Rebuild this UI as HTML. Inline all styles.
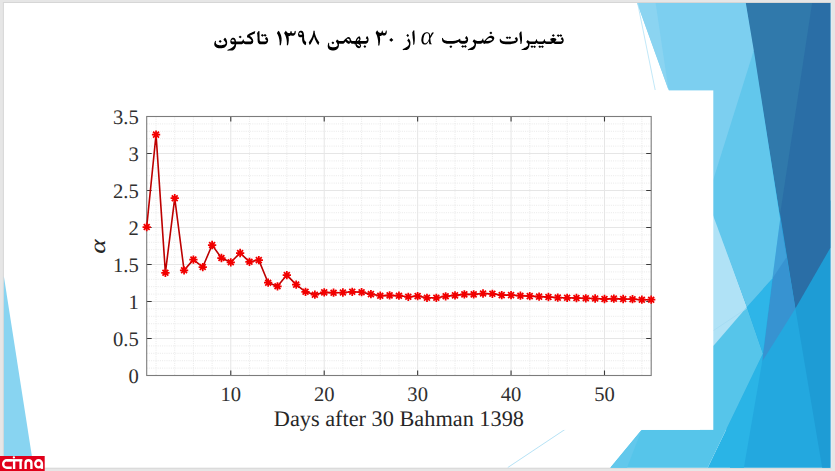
<!DOCTYPE html>
<html><head><meta charset="utf-8"><style>
html,body{margin:0;padding:0;width:835px;height:471px;overflow:hidden;background:#e6e6e6;font-family:"Liberation Sans",sans-serif}
svg{display:block;text-rendering:geometricPrecision}
</style></head><body>
<svg width="835" height="471" viewBox="0 0 835 471">
<rect x="0" y="0" width="835" height="471" fill="#e6e6e6"/>
<rect x="2.9" y="2.0" width="828.4" height="466.7" fill="#d6d6d6"/>
<rect x="830.6" y="2.8" width="1.4" height="465" fill="#e4ebf0"/>
<rect x="3.9" y="3.0" width="826.5" height="464.7" fill="#fff"/>

<polygon points="740,3.0 830.4,3.0 830.4,467.7 730,467.7 713.5,300 713.5,100" fill="#23a8df"/>
<polygon points="795.4,308.6 830.4,200 830.4,467.7 822.2,467.7" fill="#1e9cd5"/>
<polygon points="745.8,3.0 830.4,3.0 830.4,247.7 795.4,308.6" fill="#2a6ea6"/>
<polygon points="745.8,3.0 812.1,3.0 780,215" fill="#3079ab"/>
<polygon points="780.2,219 795.4,308.6 762.2,361.5" fill="#3793d1"/>
<polygon points="780.2,219 786.5,257.3 772.4,278.5" fill="#40a0d9"/>
<polygon points="762.9,353.4 762.2,361.5 743.9,467.7 707.7,467.7" fill="#2ab4e6"/>
<polygon points="700,350 746.9,307 762.9,353.4 707.7,467.7 610.3,467.7 641.7,429.8 700,429.8" fill="#56c5ea"/>
<polygon points="641.7,429.8 610.3,467.7 627,467.7" fill="#62c8ec"/>
<polygon points="746.9,307 772.4,278.5 762.9,353.4" fill="#2eb5e8"/>
<polygon points="680,120 746.9,307 713.5,345.8 690,340" fill="#b0e2f6"/>
<polygon points="753.8,50.4 780.2,219 772.4,278.5 746.9,307 700,180 700,170" fill="#62c7ec"/>
<polygon points="637.2,3.0 745.8,3.0 753.8,50.4 710,190 710,204.5" fill="#7ccff0"/>
<polygon points="637.2,3.0 655.6,3.0 668.5,90" fill="#8bd4f1"/>
<line x1="637.6" y1="3" x2="655.2" y2="90" stroke="#ade0f5" stroke-width="0.75"/>
<polygon points="3.9,276.6 33.7,467.7 3.9,467.7" fill="#88d4f1"/>
<line x1="746.7" y1="308.4" x2="507.8" y2="467.5" stroke="#a3dbf3" stroke-width="0.8"/>
<rect x="40" y="90.4" width="673.3" height="339.5" fill="#fff"/>

<path fill="#000" fill-rule="evenodd" d="M220.03 40.08 218.59 41.42 218.59 41.52 218.83 41.62 220.15 42.75 220.27 42.75 221.60 41.62 221.60 41.31 220.87 40.59ZM225.08 37.72 224.96 37.72 224.24 38.44 223.40 39.67 224.96 41.52 225.44 42.34 225.44 42.54 225.69 42.95 225.69 43.26 225.44 43.78 224.72 44.39 223.76 44.80 223.52 44.80 222.68 45.11 222.08 45.11 221.96 45.21 220.51 45.21 220.39 45.31 219.91 45.31 219.79 45.21 218.95 45.21 218.83 45.11 217.99 45.01 217.03 44.60 216.30 43.98 215.94 43.36 215.94 43.06 215.82 42.95 215.82 41.72 215.94 41.62 215.94 41.01 215.70 41.01 215.22 40.80 215.10 40.90 214.62 42.24 214.50 42.34 214.50 42.75 214.38 42.85 214.38 43.26 214.26 43.36 214.26 44.80 214.38 44.90 214.50 45.62 214.86 46.24 216.06 47.37 216.79 47.78 217.03 47.78 217.39 47.98 218.11 48.08 218.23 48.19 218.71 48.19 218.83 48.29 221.60 48.29 221.72 48.19 222.92 48.08 224.12 47.67 224.84 47.26 225.93 46.34 226.65 45.21 226.65 45.01 226.89 44.70 226.89 44.39 227.01 44.29 227.01 43.78 227.13 43.67 227.13 41.83 227.01 41.72 227.01 41.11 226.89 41.01 226.77 40.29 226.65 40.18 226.53 39.67 226.29 39.36 226.29 39.16 225.69 38.24ZM240.00 35.67 238.55 36.90 238.55 37.00 238.67 37.00 240.12 38.24 240.24 38.24 241.68 37.00 240.96 36.18 240.84 36.18 240.36 35.77ZM260.80 35.26 260.80 35.36 261.16 35.57 262.37 36.70 262.97 36.18 263.09 36.18 263.69 35.57 263.81 35.57 265.13 36.70 266.58 35.47 266.34 34.95 265.73 34.44 265.01 34.03 264.89 34.03 263.81 35.05 263.69 35.05 262.61 34.13 262.25 34.03ZM258.64 30.95 257.08 32.90 257.20 34.34 257.32 34.44 257.32 35.47 257.44 35.57 257.44 37.00 257.56 37.11 257.56 40.39 257.68 40.49 257.68 41.62 257.80 41.72 257.92 42.44 258.52 43.36 259.12 43.88 259.96 44.19 260.44 44.19 260.56 44.29 264.77 44.29 264.89 44.19 265.73 44.08 266.34 43.78 267.18 43.06 267.90 41.83 267.90 41.52 268.14 41.01 268.14 39.77 268.02 39.67 268.02 39.26 267.90 39.16 267.90 38.85 267.66 38.54 267.66 38.34 266.94 37.31 266.46 36.90 265.73 37.62 265.01 38.75 265.01 38.95 266.70 40.49 266.34 40.90 265.49 41.42 265.25 41.42 265.13 41.52 264.53 41.52 264.41 41.62 263.45 41.62 263.33 41.52 261.53 41.62 261.40 41.52 260.80 41.52 260.32 41.31 259.84 40.80 259.84 40.59 259.72 40.49 259.72 39.67 259.60 39.57 259.48 31.46 259.36 31.36 259.36 30.95ZM255.27 30.95 251.66 32.49 251.42 32.70 249.98 33.31 247.69 34.64 247.33 35.05 247.33 35.47 247.21 35.57 246.97 37.00 248.06 38.03 248.42 37.62 248.78 37.82 250.82 39.57 251.54 40.59 251.54 40.80 250.94 41.31 250.46 41.52 249.86 41.52 249.74 41.62 247.81 41.62 247.69 41.52 246.01 41.62 245.89 41.52 245.05 41.52 244.57 41.31 243.97 40.80 243.85 40.29 243.73 40.18 243.73 39.36 243.85 39.26 242.76 39.67 242.76 39.98 242.28 40.90 241.80 41.31 241.32 41.52 240.60 41.52 240.48 41.62 239.40 41.62 239.28 41.52 238.79 41.52 238.67 41.62 236.15 41.62 235.91 41.11 235.91 40.59 235.79 40.49 235.67 39.77 234.95 38.54 234.34 38.03 233.50 37.72 232.66 37.72 232.06 37.93 231.22 38.65 230.50 40.08 230.50 40.39 230.38 40.49 230.38 41.31 230.26 41.42 230.26 41.72 230.38 41.83 230.38 42.54 230.74 43.26 231.10 43.67 231.58 43.98 232.18 44.19 232.54 44.19 232.66 44.29 234.47 44.29 234.59 44.39 234.59 44.70 234.47 44.80 234.34 45.31 233.62 46.34 232.18 47.57 230.62 48.49 227.25 50.03 227.73 50.65 229.17 50.55 229.29 50.44 230.14 50.44 230.26 50.55 232.06 50.55 232.18 50.44 232.54 50.44 232.90 50.24 233.14 50.24 233.50 50.03 234.59 49.11 235.19 48.19 235.19 47.98 235.43 47.67 235.43 47.47 235.79 46.75 235.79 46.44 235.91 46.34 236.03 45.11 236.15 45.01 236.15 44.39 236.27 44.29 241.32 44.29 241.44 44.19 241.92 44.19 242.76 43.78 243.24 43.36 243.49 42.95 243.73 43.36 244.21 43.78 244.81 44.08 245.65 44.19 245.77 44.29 250.46 44.29 250.58 44.19 250.94 44.19 252.38 43.47 252.99 42.65 253.11 42.03 253.23 41.93 253.23 40.29 253.11 40.18 252.99 39.47 252.26 38.13 251.78 37.52 251.30 37.11 251.30 37.00 249.74 35.77 249.98 35.57 251.06 35.16 251.30 34.95 252.51 34.44 252.75 34.44 253.59 34.03 253.83 34.03 254.55 33.72 254.79 33.52 254.79 33.11 254.91 33.00 254.91 32.59 255.03 32.49 255.03 31.98 255.15 31.87 255.15 31.26 255.27 31.16ZM231.46 40.18 232.06 39.67 232.30 39.67 232.42 39.57 233.14 39.57 233.62 39.77 234.22 40.39 234.22 40.59 234.47 40.90 234.47 41.52 234.34 41.62 233.14 41.62 233.02 41.52 232.18 41.52 231.70 41.31 231.34 40.80ZM313.43 30.78 313.43 31.74 313.30 31.85 313.30 32.69 313.17 32.81 313.04 34.01 312.92 34.13 312.92 34.48 312.79 34.60 312.15 36.64 310.86 39.26 310.60 39.50 310.22 40.34 309.45 41.30 309.32 41.65 308.81 42.25 308.94 43.21 309.71 45.00 309.83 45.12 310.60 43.93 310.86 43.69 311.50 42.37 311.76 42.13 311.76 41.89 312.40 40.82 312.40 40.58 313.17 39.15 313.17 38.91 313.69 37.71 313.69 37.35 314.07 36.64 314.20 36.75 314.33 37.59 314.46 37.71 314.97 39.38 315.48 40.34 315.48 40.58 316.90 43.21 317.15 43.45 317.28 43.81 317.54 44.05 318.18 45.12 318.31 45.12 318.44 44.64 318.82 44.05 318.95 43.33 319.34 42.37 318.57 41.42 318.44 41.06 317.92 40.46 317.54 39.62 317.28 39.38 315.87 36.52 315.87 36.28 315.36 35.08 315.36 34.72 315.10 34.25 314.97 33.29 314.84 33.17 314.84 32.57 314.71 32.45 314.71 30.90 314.59 30.78ZM300.33 30.66 299.56 31.02 298.79 31.97 298.15 33.41 298.15 33.89 298.02 34.01 298.02 34.96 298.15 35.08 298.15 35.56 298.28 35.68 298.41 36.28 298.79 36.75 299.82 37.23 301.62 37.23 302.00 36.99 302.13 37.11 302.13 40.22 302.26 40.34 302.26 41.06 302.39 41.18 302.64 42.37 303.54 43.81 304.31 44.52 305.08 45.00 305.34 45.00 305.73 45.24 305.73 44.88 305.98 44.28 305.98 43.69 306.11 43.57 306.11 42.01 304.96 41.06 304.57 40.46 304.57 40.22 304.31 39.74 304.18 38.31 304.06 38.19 304.06 35.20 303.93 35.08 303.93 34.13 303.80 34.01 303.80 33.53 303.67 33.41 303.67 33.05 303.54 32.93 303.41 32.33 302.90 31.50 302.26 30.90 301.75 30.66ZM299.18 33.41 299.95 32.57 300.97 32.57 302.00 33.41 302.00 33.65 302.26 34.13 301.62 34.72 301.36 34.72 301.23 34.84 300.33 34.84 300.20 34.72 299.82 34.72 299.43 34.36 299.18 33.89ZM295.58 30.78 294.55 31.26 294.55 32.09 294.43 32.21 294.43 32.45 294.30 32.69 293.53 33.29 292.76 33.29 292.63 33.17 292.37 33.17 291.73 32.57 291.60 32.33 291.60 31.85 291.47 31.74 291.47 30.90 291.22 30.90 290.45 31.26 290.45 32.33 289.80 33.05 288.91 33.17 288.78 33.05 288.01 32.93 287.62 32.69 286.59 31.74 285.95 30.66 285.82 30.66 284.28 32.81 284.15 33.17 285.44 35.56 285.44 35.80 285.95 36.99 285.95 37.35 286.08 37.47 286.08 37.83 286.34 38.43 286.34 38.91 286.47 39.03 286.47 39.62 286.59 39.74 286.59 40.34 286.72 40.46 286.72 41.54 286.85 41.65 286.85 45.24 288.01 45.24 288.13 44.40 288.39 43.81 288.39 43.21 288.52 43.09 288.65 41.30 288.78 41.18 288.78 37.83 288.65 37.71 288.65 37.11 288.52 36.99 288.52 36.40 288.39 36.28 288.52 36.16 289.68 36.04 290.19 35.80 290.83 35.20 291.73 35.68 293.40 35.68 294.30 35.32 295.20 34.36 295.58 33.41 295.58 32.93 295.71 32.81 295.71 31.26 295.58 31.14ZM278.63 30.66 277.48 32.09 276.96 33.17 278.12 35.32 278.12 35.56 278.76 37.11 278.76 37.47 279.02 38.07 279.02 38.55 279.28 39.15 279.40 40.58 279.53 40.70 279.53 41.89 279.66 42.01 279.66 45.24 280.82 45.24 280.94 44.28 281.07 44.16 281.07 43.69 281.20 43.57 281.20 42.97 281.33 42.85 281.46 41.06 281.59 40.94 281.59 38.07 281.46 37.95 281.46 37.11 281.33 36.99 281.33 36.40 281.20 36.28 281.07 35.44 280.94 35.32 280.56 34.01 280.30 33.65 280.30 33.41 279.28 31.50ZM364.68 45.18 364.68 45.29 363.63 46.36 363.53 46.36 363.42 46.57 363.53 46.57 364.89 47.97 366.14 46.68 366.14 46.47 365.30 45.50ZM332.77 41.53 331.52 42.82 331.52 42.92 331.62 42.92 332.88 44.21 332.98 44.21 334.24 42.92 333.61 42.07 333.51 42.07 333.09 41.64ZM368.55 38.84 368.44 38.74 368.44 38.42 368.34 38.31 368.23 37.77 367.82 36.91 367.19 36.05 367.08 36.05 366.56 36.70 365.83 37.99 365.83 38.20 367.29 39.70 367.29 39.92 366.46 40.67 365.93 40.88 365.41 40.88 365.30 40.99 363.74 40.88 363.63 40.99 360.18 40.99 360.07 41.10 359.76 41.10 359.66 40.99 360.07 40.46 360.49 39.38 360.49 38.09 359.87 36.70 359.55 36.27 358.30 36.81 357.36 37.56 357.36 37.66 356.73 38.31 356.41 38.95 356.20 39.17 356.00 39.60 356.00 39.81 355.79 40.13 355.68 40.67 355.47 40.99 353.80 40.99 353.69 40.88 352.33 40.99 352.23 40.88 351.81 40.88 351.60 40.78 351.18 40.35 351.08 39.92 350.77 39.38 350.66 38.84 350.03 37.66 349.41 37.13 348.36 36.91 348.25 37.02 347.63 37.13 347.10 37.45 345.85 38.74 345.64 38.52 343.65 40.67 343.23 40.88 342.71 40.88 342.61 40.99 342.08 40.99 341.98 40.88 341.25 40.88 341.14 40.99 339.68 40.99 339.57 40.88 339.05 40.88 338.00 40.35 337.27 39.60 337.27 39.49 337.06 39.38 335.81 41.31 337.27 43.68 337.27 43.89 337.59 44.53 337.59 45.50 337.48 45.72 336.54 46.57 335.81 46.90 335.18 47.00 335.07 47.11 334.76 47.11 334.66 47.22 333.82 47.22 333.71 47.33 332.35 47.33 332.25 47.22 331.31 47.11 330.26 46.68 329.64 46.14 329.11 45.07 329.11 43.46 329.22 43.35 329.22 42.92 328.80 42.71 328.48 42.71 328.07 43.78 328.07 44.11 327.86 44.64 327.86 45.07 327.75 45.18 327.75 47.00 327.86 47.11 327.96 47.76 328.48 48.72 329.22 49.47 330.37 50.12 331.00 50.22 331.10 50.33 331.52 50.33 331.62 50.44 332.46 50.44 332.56 50.55 333.40 50.55 333.51 50.44 334.34 50.44 334.45 50.33 334.87 50.33 334.97 50.22 335.81 50.01 336.64 49.58 337.06 49.26 338.21 47.97 338.63 47.11 338.84 46.04 338.94 45.93 338.94 43.68 339.05 43.57 339.57 43.78 343.13 43.78 343.23 43.68 343.76 43.57 344.59 42.82 344.91 42.17 345.01 41.64 345.22 41.53 347.31 43.14 348.99 44.00 349.09 44.00 349.72 43.35 350.35 42.39 351.08 43.35 351.71 43.68 352.12 43.68 352.23 43.78 354.32 43.78 354.43 43.89 354.32 44.11 354.32 44.53 355.16 44.11 355.37 44.32 355.37 44.86 355.47 44.96 355.58 45.50 356.20 46.68 357.36 47.76 358.09 48.08 359.03 48.18 360.07 47.76 360.70 47.00 360.91 46.57 361.12 45.50 361.02 45.39 361.02 44.96 360.39 43.89 360.49 43.78 365.62 43.78 365.72 43.68 366.14 43.68 366.87 43.35 367.29 43.03 367.82 42.39 368.23 41.53 368.23 41.31 368.44 40.88 368.44 40.56 368.55 40.46ZM356.62 43.89 356.73 43.78 357.36 43.78 357.46 43.89 358.19 44.00 359.03 44.43 359.87 45.29 360.07 46.04 359.97 46.14 359.03 46.14 357.77 45.61 357.04 44.86 356.83 44.53 356.83 44.32ZM359.55 41.10 359.66 40.99 359.76 41.10 359.66 41.21ZM346.69 39.38 347.31 38.84 347.73 38.63 348.57 38.63 349.30 39.17 349.61 39.81 349.61 40.88 349.51 40.99 349.51 41.21 349.20 41.42 347.10 39.92 346.69 39.49ZM358.71 38.20 359.34 39.17 359.34 39.60 359.24 39.81 358.71 40.24 357.88 40.67 357.04 40.88 356.94 40.67 357.36 39.70 357.98 38.84ZM391.22 37.90 389.23 39.88 389.23 40.00 391.22 41.85 391.35 41.85 393.34 39.88 391.35 37.90ZM386.74 30.61 386.37 30.61 385.99 30.86 385.74 30.86 385.62 32.09 385.37 32.59 384.62 33.08 383.88 33.08 383.38 32.83 383.01 32.46 382.76 31.84 382.76 30.49 381.76 30.98 381.76 31.84 381.64 31.97 381.64 32.22 381.01 32.83 380.77 32.83 380.64 32.96 379.65 32.83 378.65 32.22 377.78 31.23 377.28 30.36 376.28 31.60 376.04 32.22 375.66 32.71 375.66 33.08 376.91 35.55 376.91 35.80 377.28 36.66 377.53 38.02 377.65 38.15 377.65 38.64 377.78 38.77 377.78 39.26 377.90 39.38 377.90 40.00 378.03 40.12 378.03 40.87 378.15 40.99 378.15 42.84 378.28 42.97 378.28 44.70 378.15 44.82 378.15 45.44 379.27 45.44 379.40 45.31 379.52 44.33 379.65 44.20 379.65 43.71 379.77 43.58 379.77 42.84 379.89 42.72 379.89 41.98 380.02 41.85 380.02 40.37 380.14 40.25 380.02 37.41 379.89 37.28 379.77 36.17 379.89 36.05 380.89 35.92 381.64 35.55 382.13 35.06 382.38 35.30 382.63 35.30 383.01 35.55 384.50 35.55 384.62 35.43 385.25 35.30 385.62 35.06 386.24 34.32 386.37 33.82 386.62 33.45 386.62 32.96 386.74 32.83ZM408.81 38.47 408.38 38.80 407.19 40.71 408.27 41.83 408.81 42.73 408.81 42.96 409.02 43.41 409.02 44.19 408.70 45.09 408.05 45.88 407.95 45.88 407.08 46.66 406.11 47.34 405.79 47.45 405.57 47.67 405.25 47.79 405.03 48.01 402.55 49.36 403.09 50.14 403.63 49.92 404.60 49.92 404.71 49.81 404.82 49.92 406.87 49.92 406.97 49.81 407.30 49.81 408.16 49.36 409.02 48.46 409.45 47.79 409.99 46.55 410.10 45.88 410.21 45.76 410.21 45.32 410.32 45.20 410.32 44.64 410.43 44.53 410.43 42.06 410.32 41.95 410.32 41.50 410.21 41.39 410.21 41.05 409.89 40.37 409.89 40.15ZM407.62 34.09 406.33 35.43 406.33 35.55 407.73 37.01 408.59 36.22 408.59 36.11 409.02 35.66 409.02 35.43 408.05 34.31ZM414.31 30.16 413.66 30.16 412.80 31.39 412.26 32.51 412.26 32.85 412.37 32.96 412.37 34.76 412.47 34.87 412.47 36.00 412.58 36.11 412.69 38.02 412.80 38.13 412.80 38.91 412.91 39.03 412.91 39.70 413.01 39.81 413.01 40.49 413.12 40.60 413.12 41.39 413.23 41.50 413.23 44.75 413.98 44.75 414.09 44.64 414.09 44.42 414.41 43.63 414.41 43.29 414.52 43.18 414.52 42.40 414.63 42.28 414.63 41.50 414.74 41.39 414.85 37.57 414.74 37.46 414.74 35.66 414.63 35.55 414.63 34.42 414.52 34.31 414.52 33.30 414.41 33.19 414.41 31.17 414.31 31.05ZM424.18 33.04 423.20 33.94 422.59 34.85 421.97 36.14 421.97 36.40 421.73 36.91 421.73 37.30 421.61 37.43 421.48 38.85 421.36 38.98 421.36 40.92 421.48 41.05 421.61 42.08 422.22 43.37 422.83 44.02 423.93 44.54 425.28 44.54 425.41 44.41 425.77 44.41 426.39 44.15 427.37 43.37 427.98 42.60 428.59 41.44 428.84 41.18 428.96 41.31 429.08 42.99 429.20 43.11 429.20 43.50 429.33 43.63 429.45 44.28 431.90 44.28 431.90 44.02 432.02 43.89 431.90 43.76 431.53 43.76 431.17 43.50 430.80 42.47 430.80 41.95 430.68 41.82 430.68 41.31 430.55 41.18 430.55 40.40 430.43 40.27 430.43 38.72 430.31 38.46 430.92 37.30 431.17 37.04 431.29 36.66 431.78 36.01 431.90 35.62 432.39 34.98 432.51 34.59 433.74 32.91 433.74 32.52 432.02 32.52 431.53 33.56 431.29 33.81 430.68 35.24 430.31 35.75 430.06 35.11 430.06 34.59 429.82 34.20 429.69 33.69 429.08 32.91 428.22 32.39 427.86 32.39 427.73 32.26 426.14 32.26 426.02 32.39 425.16 32.52ZM427.61 33.17 428.10 33.43 428.47 33.81 428.84 34.59 428.84 34.98 428.96 35.11 428.96 36.01 429.08 36.14 429.08 38.85 427.98 41.18 427.37 42.08 426.63 42.86 425.77 43.37 424.67 43.37 423.81 42.60 423.57 42.08 423.44 41.18 423.32 41.05 423.44 38.46 423.57 38.34 423.57 37.82 423.69 37.69 423.69 37.17 423.93 36.66 423.93 36.27 424.67 34.59 425.77 33.43 426.39 33.17ZM450.70 45.41 449.32 46.68 450.81 48.04 450.93 48.04 452.31 46.78 452.31 46.68 451.27 45.62 450.93 45.41ZM466.71 46.57 466.59 46.26 465.21 45.10 464.06 46.26 463.25 45.52 462.79 45.20 462.56 45.20 461.18 46.47 461.64 46.89 461.76 46.89 462.68 47.83 462.79 47.83 464.06 46.68 465.33 47.83 465.44 47.83 466.59 46.78ZM468.09 38.80 467.98 38.69 467.98 38.38 467.86 38.27 467.75 37.75 467.29 36.91 466.59 36.06 466.48 36.06 465.67 37.01 465.10 37.96 465.10 38.17 466.71 39.64 466.71 39.85 465.79 40.58 465.21 40.79 464.64 40.79 464.52 40.90 463.60 40.90 463.48 40.79 462.10 40.90 461.99 40.79 461.30 40.79 461.18 40.69 460.95 40.69 460.03 39.95 460.03 39.74 460.72 39.01 460.60 38.90 459.68 38.69 459.11 39.22 458.30 39.74 456.92 40.37 456.57 40.37 456.11 40.58 455.19 40.69 455.07 40.79 452.77 40.90 452.66 41.00 448.39 41.00 448.28 40.90 447.01 40.90 446.90 40.79 445.74 40.69 445.63 40.58 444.71 40.37 444.48 40.16 444.13 40.06 443.56 39.53 443.09 38.69 442.98 38.06 442.40 37.96 442.29 37.85 442.17 37.85 442.17 38.06 442.06 38.17 442.06 40.16 442.17 40.27 442.29 41.00 442.52 41.42 442.75 41.63 442.86 41.95 443.56 42.58 444.25 43.00 444.48 43.00 445.05 43.31 446.20 43.52 446.32 43.63 448.05 43.73 448.16 43.84 451.85 43.84 451.96 43.73 453.12 43.73 453.23 43.63 454.50 43.52 454.61 43.42 454.96 43.42 455.07 43.31 456.34 43.00 457.49 42.47 458.65 41.63 458.99 42.37 459.80 43.10 460.49 43.42 461.18 43.52 461.30 43.63 464.87 43.63 464.98 43.52 465.44 43.52 466.25 43.21 466.71 42.89 467.29 42.26 467.75 41.42 467.75 41.21 467.98 40.79 467.98 40.48 468.09 40.37ZM494.01 37.12 493.32 36.38 491.94 35.75 490.56 35.75 490.44 35.85 489.86 35.96 489.17 36.27 488.02 37.01 486.18 38.69 484.45 40.79 484.22 40.79 483.76 40.58 483.30 39.95 483.30 38.69 483.41 38.48 482.49 38.80 482.38 39.32 482.03 40.06 481.34 40.69 481.11 40.79 480.53 40.79 480.42 40.90 479.50 40.90 479.38 40.79 479.15 40.90 477.08 40.90 476.96 40.79 476.39 40.79 475.35 40.37 474.31 39.43 474.31 39.32 474.20 39.32 473.28 40.27 472.59 41.42 473.74 42.47 474.31 43.42 474.31 43.63 474.43 43.73 474.43 44.26 474.54 44.36 474.31 45.31 474.08 45.62 472.59 46.89 471.55 47.52 471.20 47.62 470.63 48.04 470.28 48.15 470.05 48.36 467.75 49.41 467.63 49.62 468.21 50.25 468.32 50.14 468.78 50.14 468.90 50.04 472.24 50.04 472.35 49.93 472.93 49.83 473.85 49.30 474.66 48.46 475.47 46.99 475.47 46.78 475.81 46.05 475.81 45.62 475.93 45.52 476.04 43.52 476.16 43.42 476.73 43.52 476.85 43.63 480.99 43.63 481.11 43.52 481.46 43.52 482.03 43.31 482.84 42.47 483.64 43.10 483.64 43.42 483.53 43.52 483.41 44.05 484.57 44.05 484.68 43.63 484.91 43.42 485.03 43.52 487.79 43.52 487.91 43.42 488.37 43.42 488.48 43.31 488.83 43.31 488.94 43.21 489.52 43.10 491.13 42.37 491.94 41.84 493.21 40.69 493.67 40.06 494.24 38.69 494.24 37.64 494.01 37.33ZM492.28 39.22 492.28 39.53 491.48 40.16 490.10 40.69 489.63 40.69 489.52 40.79 488.60 40.79 488.48 40.90 486.18 40.90 486.06 40.79 486.18 40.48 486.52 40.06 488.14 38.59 488.83 38.17 489.40 37.96 490.79 37.96 491.48 38.27 491.94 38.69ZM490.67 31.65 490.67 31.76 489.52 32.81 489.29 32.91 489.75 33.23 490.79 34.28 491.02 34.28 492.28 33.12 492.28 32.91 491.25 31.86 490.90 31.65ZM538.35 46.57 538.35 46.66 539.82 47.92 539.93 47.92 541.06 46.95 541.29 46.95 542.19 47.73 542.19 47.83 542.41 47.92 542.75 47.73 543.77 46.76 543.54 46.37 542.41 45.50 542.19 45.50 541.06 46.47 540.50 45.89 539.71 45.40 539.59 45.60 538.58 46.47ZM535.87 46.76 535.76 46.47 534.40 45.40 533.27 46.47 532.48 45.79 532.03 45.50 531.81 45.50 530.45 46.66 530.90 47.05 531.02 47.05 531.92 47.92 532.03 47.92 533.27 46.86 534.51 47.92 534.63 47.92 535.76 46.95ZM563.52 39.01 562.95 37.94 562.16 37.07 561.71 37.46 560.70 38.91 562.39 40.46 561.60 41.14 560.92 41.43 560.25 41.43 560.13 41.53 559.34 41.53 559.23 41.43 558.55 41.43 558.44 41.53 555.05 41.53 554.94 41.33 555.96 40.46 556.30 39.88 556.30 39.10 555.62 38.43 554.94 38.14 553.93 38.04 553.81 37.94 552.23 38.04 552.12 38.14 551.78 38.14 550.65 38.52 550.43 39.01 550.31 39.69 550.20 39.78 550.20 40.36 550.54 40.36 551.22 40.65 551.67 41.04 551.67 41.14 551.44 41.33 551.22 41.33 551.10 41.43 550.43 41.43 550.31 41.53 548.73 41.53 548.62 41.43 546.93 41.53 546.82 41.43 546.14 41.43 546.03 41.33 545.80 41.33 545.57 41.24 545.01 40.65 545.01 40.46 544.90 40.36 544.90 39.30 543.99 39.59 543.88 40.17 543.20 41.14 542.87 41.33 542.64 41.33 542.53 41.43 541.96 41.43 541.85 41.53 540.83 41.53 540.72 41.43 539.03 41.53 538.92 41.43 538.24 41.43 538.13 41.33 537.90 41.33 537.34 40.95 537.11 40.56 537.11 40.36 537.00 40.27 537.00 39.30 536.09 39.59 535.98 40.27 535.64 40.85 535.19 41.24 534.74 41.43 534.06 41.43 533.95 41.53 532.93 41.53 532.82 41.43 532.26 41.43 532.14 41.53 530.57 41.53 530.45 41.43 529.89 41.43 528.87 41.04 527.86 40.17 527.86 40.07 527.74 40.07 526.84 40.95 526.16 42.01 527.29 42.98 527.86 43.85 527.86 44.05 527.97 44.14 527.97 44.63 528.08 44.72 527.86 45.60 527.63 45.89 526.16 47.05 525.15 47.63 524.81 47.73 524.25 48.12 523.91 48.21 523.68 48.41 521.42 49.38 521.31 49.57 521.88 50.15 521.99 50.05 522.44 50.05 522.55 49.96 525.83 49.96 526.73 49.67 527.41 49.28 527.86 48.89 528.65 47.83 528.65 47.63 528.99 47.15 528.99 46.95 529.32 46.28 529.44 45.11 529.55 45.02 529.55 43.95 529.66 43.85 530.23 43.95 530.34 44.05 534.74 44.05 534.85 43.95 535.19 43.95 535.76 43.76 536.32 43.37 536.77 42.79 537.00 43.17 537.56 43.66 538.01 43.85 538.80 43.95 538.92 44.05 542.64 44.05 542.75 43.95 543.43 43.85 543.77 43.66 544.56 42.88 544.67 42.88 545.46 43.66 546.70 44.05 550.20 44.05 550.31 43.95 550.77 43.95 551.44 43.66 551.67 43.66 552.68 43.08 553.14 42.69 553.25 42.69 553.36 42.88 554.38 43.66 555.62 44.05 560.58 44.05 560.70 43.95 561.04 43.95 562.05 43.56 562.73 42.98 563.41 41.91 563.52 41.33 563.63 41.24 563.63 40.65 563.74 40.56 563.74 39.98 563.63 39.88ZM517.81 39.39 517.70 39.30 517.59 38.62 517.14 37.84 516.12 36.88 515.22 37.94 514.77 38.81 515.56 39.49 516.12 40.27 515.44 40.65 515.22 40.65 514.88 40.85 514.65 40.85 514.20 41.04 513.30 41.14 512.73 41.33 511.04 41.43 510.93 41.53 509.57 41.53 509.46 41.62 507.09 41.62 506.98 41.53 505.29 41.53 505.17 41.43 503.71 41.33 503.59 41.24 503.14 41.24 503.03 41.14 502.46 41.04 501.56 40.56 501.11 40.07 500.77 39.49 500.66 38.91 500.21 38.72 499.87 38.72 499.87 39.01 499.76 39.10 499.76 40.95 499.87 41.04 499.98 41.72 500.32 42.30 500.77 42.69 500.77 42.79 501.45 43.27 502.58 43.76 502.92 43.76 503.48 43.95 503.93 43.95 504.04 44.05 505.74 44.14 505.85 44.24 509.46 44.24 509.57 44.14 510.70 44.14 510.82 44.05 511.38 44.05 511.94 43.85 512.40 43.85 512.51 43.76 513.30 43.66 513.41 43.56 514.31 43.37 514.65 43.17 514.88 43.17 515.89 42.69 516.68 42.11 517.25 41.43 517.70 40.56ZM505.74 37.65 505.74 37.75 506.30 38.23 506.41 38.23 507.20 39.01 507.66 38.72 508.45 37.94 508.56 37.94 509.80 39.01 511.15 37.84 511.04 37.55 510.59 37.17 510.59 37.07 509.69 36.49 509.57 36.49 508.56 37.46 508.45 37.46 507.54 36.68 507.20 36.49 506.98 36.49 506.98 36.58ZM556.75 35.52 558.33 36.88 559.57 35.81 559.68 35.81 560.70 36.68 560.81 36.88 562.16 35.71 562.05 35.32 560.81 34.36 560.70 34.36 559.57 35.32 559.46 35.32 558.78 34.65 558.10 34.36ZM553.14 34.26 551.78 35.42 553.25 36.68 553.36 36.68 553.81 36.39 554.72 35.52 554.38 35.03 553.47 34.36ZM521.54 31.45 520.86 31.45 520.41 31.84 519.39 33.39 519.39 34.74 519.51 34.84 519.62 36.97 519.73 37.07 519.73 37.84 519.84 37.94 519.84 38.62 519.96 38.72 519.96 39.39 520.07 39.49 520.07 40.07 520.18 40.17 520.18 40.75 520.30 40.85 520.30 41.72 520.41 41.82 520.41 44.05 521.20 44.05 521.31 43.85 521.31 43.66 521.54 43.27 521.54 42.98 521.65 42.88 521.76 41.62 521.88 41.53 521.88 40.85 521.99 40.75 521.99 36.88 521.88 36.78 521.88 35.71 521.76 35.62 521.76 34.65 521.65 34.55Z"/>
<path d="M156.04 116.50V375.50M174.73 116.50V375.50M193.41 116.50V375.50M212.10 116.50V375.50M249.47 116.50V375.50M268.15 116.50V375.50M286.84 116.50V375.50M305.52 116.50V375.50M342.89 116.50V375.50M361.58 116.50V375.50M380.26 116.50V375.50M398.95 116.50V375.50M436.32 116.50V375.50M455.01 116.50V375.50M473.69 116.50V375.50M492.38 116.50V375.50M529.75 116.50V375.50M548.43 116.50V375.50M567.12 116.50V375.50M585.80 116.50V375.50M623.17 116.50V375.50M641.86 116.50V375.50M146.70 368.10H651.20M146.70 360.70H651.20M146.70 353.30H651.20M146.70 345.90H651.20M146.70 331.10H651.20M146.70 323.70H651.20M146.70 316.30H651.20M146.70 308.90H651.20M146.70 294.10H651.20M146.70 286.70H651.20M146.70 279.30H651.20M146.70 271.90H651.20M146.70 257.10H651.20M146.70 249.70H651.20M146.70 242.30H651.20M146.70 234.90H651.20M146.70 220.10H651.20M146.70 212.70H651.20M146.70 205.30H651.20M146.70 197.90H651.20M146.70 183.10H651.20M146.70 175.70H651.20M146.70 168.30H651.20M146.70 160.90H651.20M146.70 146.10H651.20M146.70 138.70H651.20M146.70 131.30H651.20M146.70 123.90H651.20" stroke="#e6e6e6" stroke-width="0.9" stroke-dasharray="1 1.2" fill="none"/>
<path d="M230.78 116.50V375.50M324.21 116.50V375.50M417.64 116.50V375.50M511.06 116.50V375.50M604.49 116.50V375.50M146.70 338.50H651.20M146.70 301.50H651.20M146.70 264.50H651.20M146.70 227.50H651.20M146.70 190.50H651.20M146.70 153.50H651.20" stroke="#e6e6e6" stroke-width="1" fill="none"/>
<path d="M230.78 375.50v-5.00M230.78 116.50v5.00M324.21 375.50v-5.00M324.21 116.50v5.00M417.64 375.50v-5.00M417.64 116.50v5.00M511.06 375.50v-5.00M511.06 116.50v5.00M604.49 375.50v-5.00M604.49 116.50v5.00M146.70 338.50h5.00M651.20 338.50h-5.00M146.70 301.50h5.00M651.20 301.50h-5.00M146.70 264.50h5.00M651.20 264.50h-5.00M146.70 227.50h5.00M651.20 227.50h-5.00M146.70 190.50h5.00M651.20 190.50h-5.00M146.70 153.50h5.00M651.20 153.50h-5.00" stroke="#3a3a3a" stroke-width="1.1" fill="none"/>
<rect x="146.70" y="116.50" width="504.50" height="259.00" fill="none" stroke="#7c7c7c" stroke-width="1.1"/>
<g font-family="Liberation Serif" font-size="20.6" fill="#303030"><text x="138.7" y="383.00" text-anchor="end">0</text><text x="138.7" y="346.00" text-anchor="end">0.5</text><text x="138.7" y="309.00" text-anchor="end">1</text><text x="138.7" y="272.00" text-anchor="end">1.5</text><text x="138.7" y="235.00" text-anchor="end">2</text><text x="138.7" y="198.00" text-anchor="end">2.5</text><text x="138.7" y="161.00" text-anchor="end">3</text><text x="138.7" y="124.00" text-anchor="end">3.5</text><text x="230.78" y="401.4" text-anchor="middle">10</text><text x="324.21" y="401.4" text-anchor="middle">20</text><text x="417.64" y="401.4" text-anchor="middle">30</text><text x="511.06" y="401.4" text-anchor="middle">40</text><text x="604.49" y="401.4" text-anchor="middle">50</text></g>
<text x="398.9" y="425.8" font-family="Liberation Serif" font-size="22.3" fill="#262626" text-anchor="middle">Days after 30 Bahman 1398</text>
<text transform="translate(105.4 246.4) rotate(-90) scale(1.25 1.0)" font-family="Liberation Serif" font-size="22" font-style="italic" fill="#262626" text-anchor="middle">α</text>
<polyline points="146.70,227.00 156.04,134.60 165.39,272.80 174.73,198.20 184.07,270.30 193.41,259.60 202.76,267.05 212.10,245.00 221.44,258.00 230.78,262.30 240.13,253.00 249.47,261.80 258.81,260.10 268.15,282.70 277.50,286.30 286.84,275.10 296.18,284.60 305.52,291.80 314.87,294.70 324.21,292.40 333.55,292.70 342.89,292.50 352.24,291.80 361.58,292.20 370.92,294.10 380.26,295.70 389.61,295.40 398.95,295.70 408.29,296.80 417.64,296.10 426.98,297.80 436.32,297.80 445.66,296.30 455.01,295.40 464.35,294.40 473.69,294.40 483.03,293.50 492.38,293.80 501.72,295.10 511.06,295.10 520.40,295.70 529.75,296.10 539.09,296.60 548.43,297.00 557.77,297.60 567.12,297.80 576.46,298.00 585.80,298.30 595.14,298.50 604.49,299.00 613.83,298.60 623.17,299.00 632.51,299.20 641.86,299.70 651.20,299.70" fill="none" stroke="#bd0000" stroke-width="1.6" stroke-linejoin="round"/>
<path d="M142.55 227.00h8.30M146.70 222.85v8.30M143.77 224.07l5.87 5.87M143.77 229.93l5.87 -5.87M151.89 134.60h8.30M156.04 130.45v8.30M153.11 131.67l5.87 5.87M153.11 137.53l5.87 -5.87M161.24 272.80h8.30M165.39 268.65v8.30M162.45 269.87l5.87 5.87M162.45 275.73l5.87 -5.87M170.58 198.20h8.30M174.73 194.05v8.30M171.79 195.27l5.87 5.87M171.79 201.13l5.87 -5.87M179.92 270.30h8.30M184.07 266.15v8.30M181.14 267.37l5.87 5.87M181.14 273.23l5.87 -5.87M189.26 259.60h8.30M193.41 255.45v8.30M190.48 256.67l5.87 5.87M190.48 262.53l5.87 -5.87M198.61 267.05h8.30M202.76 262.90v8.30M199.82 264.12l5.87 5.87M199.82 269.98l5.87 -5.87M207.95 245.00h8.30M212.10 240.85v8.30M209.16 242.07l5.87 5.87M209.16 247.93l5.87 -5.87M217.29 258.00h8.30M221.44 253.85v8.30M218.51 255.07l5.87 5.87M218.51 260.93l5.87 -5.87M226.63 262.30h8.30M230.78 258.15v8.30M227.85 259.37l5.87 5.87M227.85 265.23l5.87 -5.87M235.98 253.00h8.30M240.13 248.85v8.30M237.19 250.07l5.87 5.87M237.19 255.93l5.87 -5.87M245.32 261.80h8.30M249.47 257.65v8.30M246.53 258.87l5.87 5.87M246.53 264.73l5.87 -5.87M254.66 260.10h8.30M258.81 255.95v8.30M255.88 257.17l5.87 5.87M255.88 263.03l5.87 -5.87M264.00 282.70h8.30M268.15 278.55v8.30M265.22 279.77l5.87 5.87M265.22 285.63l5.87 -5.87M273.35 286.30h8.30M277.50 282.15v8.30M274.56 283.37l5.87 5.87M274.56 289.23l5.87 -5.87M282.69 275.10h8.30M286.84 270.95v8.30M283.90 272.17l5.87 5.87M283.90 278.03l5.87 -5.87M292.03 284.60h8.30M296.18 280.45v8.30M293.25 281.67l5.87 5.87M293.25 287.53l5.87 -5.87M301.37 291.80h8.30M305.52 287.65v8.30M302.59 288.87l5.87 5.87M302.59 294.73l5.87 -5.87M310.72 294.70h8.30M314.87 290.55v8.30M311.93 291.77l5.87 5.87M311.93 297.63l5.87 -5.87M320.06 292.40h8.30M324.21 288.25v8.30M321.27 289.47l5.87 5.87M321.27 295.33l5.87 -5.87M329.40 292.70h8.30M333.55 288.55v8.30M330.62 289.77l5.87 5.87M330.62 295.63l5.87 -5.87M338.74 292.50h8.30M342.89 288.35v8.30M339.96 289.57l5.87 5.87M339.96 295.43l5.87 -5.87M348.09 291.80h8.30M352.24 287.65v8.30M349.30 288.87l5.87 5.87M349.30 294.73l5.87 -5.87M357.43 292.20h8.30M361.58 288.05v8.30M358.65 289.27l5.87 5.87M358.65 295.13l5.87 -5.87M366.77 294.10h8.30M370.92 289.95v8.30M367.99 291.17l5.87 5.87M367.99 297.03l5.87 -5.87M376.11 295.70h8.30M380.26 291.55v8.30M377.33 292.77l5.87 5.87M377.33 298.63l5.87 -5.87M385.46 295.40h8.30M389.61 291.25v8.30M386.67 292.47l5.87 5.87M386.67 298.33l5.87 -5.87M394.80 295.70h8.30M398.95 291.55v8.30M396.02 292.77l5.87 5.87M396.02 298.63l5.87 -5.87M404.14 296.80h8.30M408.29 292.65v8.30M405.36 293.87l5.87 5.87M405.36 299.73l5.87 -5.87M413.49 296.10h8.30M417.64 291.95v8.30M414.70 293.17l5.87 5.87M414.70 299.03l5.87 -5.87M422.83 297.80h8.30M426.98 293.65v8.30M424.04 294.87l5.87 5.87M424.04 300.73l5.87 -5.87M432.17 297.80h8.30M436.32 293.65v8.30M433.39 294.87l5.87 5.87M433.39 300.73l5.87 -5.87M441.51 296.30h8.30M445.66 292.15v8.30M442.73 293.37l5.87 5.87M442.73 299.23l5.87 -5.87M450.86 295.40h8.30M455.01 291.25v8.30M452.07 292.47l5.87 5.87M452.07 298.33l5.87 -5.87M460.20 294.40h8.30M464.35 290.25v8.30M461.41 291.47l5.87 5.87M461.41 297.33l5.87 -5.87M469.54 294.40h8.30M473.69 290.25v8.30M470.76 291.47l5.87 5.87M470.76 297.33l5.87 -5.87M478.88 293.50h8.30M483.03 289.35v8.30M480.10 290.57l5.87 5.87M480.10 296.43l5.87 -5.87M488.23 293.80h8.30M492.38 289.65v8.30M489.44 290.87l5.87 5.87M489.44 296.73l5.87 -5.87M497.57 295.10h8.30M501.72 290.95v8.30M498.78 292.17l5.87 5.87M498.78 298.03l5.87 -5.87M506.91 295.10h8.30M511.06 290.95v8.30M508.13 292.17l5.87 5.87M508.13 298.03l5.87 -5.87M516.25 295.70h8.30M520.40 291.55v8.30M517.47 292.77l5.87 5.87M517.47 298.63l5.87 -5.87M525.60 296.10h8.30M529.75 291.95v8.30M526.81 293.17l5.87 5.87M526.81 299.03l5.87 -5.87M534.94 296.60h8.30M539.09 292.45v8.30M536.15 293.67l5.87 5.87M536.15 299.53l5.87 -5.87M544.28 297.00h8.30M548.43 292.85v8.30M545.50 294.07l5.87 5.87M545.50 299.93l5.87 -5.87M553.62 297.60h8.30M557.77 293.45v8.30M554.84 294.67l5.87 5.87M554.84 300.53l5.87 -5.87M562.97 297.80h8.30M567.12 293.65v8.30M564.18 294.87l5.87 5.87M564.18 300.73l5.87 -5.87M572.31 298.00h8.30M576.46 293.85v8.30M573.52 295.07l5.87 5.87M573.52 300.93l5.87 -5.87M581.65 298.30h8.30M585.80 294.15v8.30M582.87 295.37l5.87 5.87M582.87 301.23l5.87 -5.87M590.99 298.50h8.30M595.14 294.35v8.30M592.21 295.57l5.87 5.87M592.21 301.43l5.87 -5.87M600.34 299.00h8.30M604.49 294.85v8.30M601.55 296.07l5.87 5.87M601.55 301.93l5.87 -5.87M609.68 298.60h8.30M613.83 294.45v8.30M610.90 295.67l5.87 5.87M610.90 301.53l5.87 -5.87M619.02 299.00h8.30M623.17 294.85v8.30M620.24 296.07l5.87 5.87M620.24 301.93l5.87 -5.87M628.36 299.20h8.30M632.51 295.05v8.30M629.58 296.27l5.87 5.87M629.58 302.13l5.87 -5.87M637.71 299.70h8.30M641.86 295.55v8.30M638.92 296.77l5.87 5.87M638.92 302.63l5.87 -5.87M647.05 299.70h8.30M651.20 295.55v8.30M648.27 296.77l5.87 5.87M648.27 302.63l5.87 -5.87" stroke="#f20000" stroke-width="1.75" fill="none"/>
<rect x="0" y="456" width="44.7" height="15" fill="#e0001a"/>
<g fill="none" stroke="#fff" stroke-width="2.4">
<path d="M11.7 460.3 H6.9 A3.7 3.7 0 0 0 6.9 467.7 H11.7"/>
<path d="M6.9 460.3 H22.4"/>
<path d="M14.1 460.3 V468.9 M20.6 460.3 V468.9"/>
<path d="M25.6 468.9 V463.2 A2.9 2.9 0 0 1 31.4 463.2 V468.9"/>
<ellipse cx="38.6" cy="463.85" rx="3.3" ry="3.55"/>
</g>
<rect x="40.7" y="463.8" width="2.4" height="5.1" fill="#fff"/>
<circle cx="13.9" cy="457.4" r="1.15" fill="#fff"/>
</svg>
</body></html>
